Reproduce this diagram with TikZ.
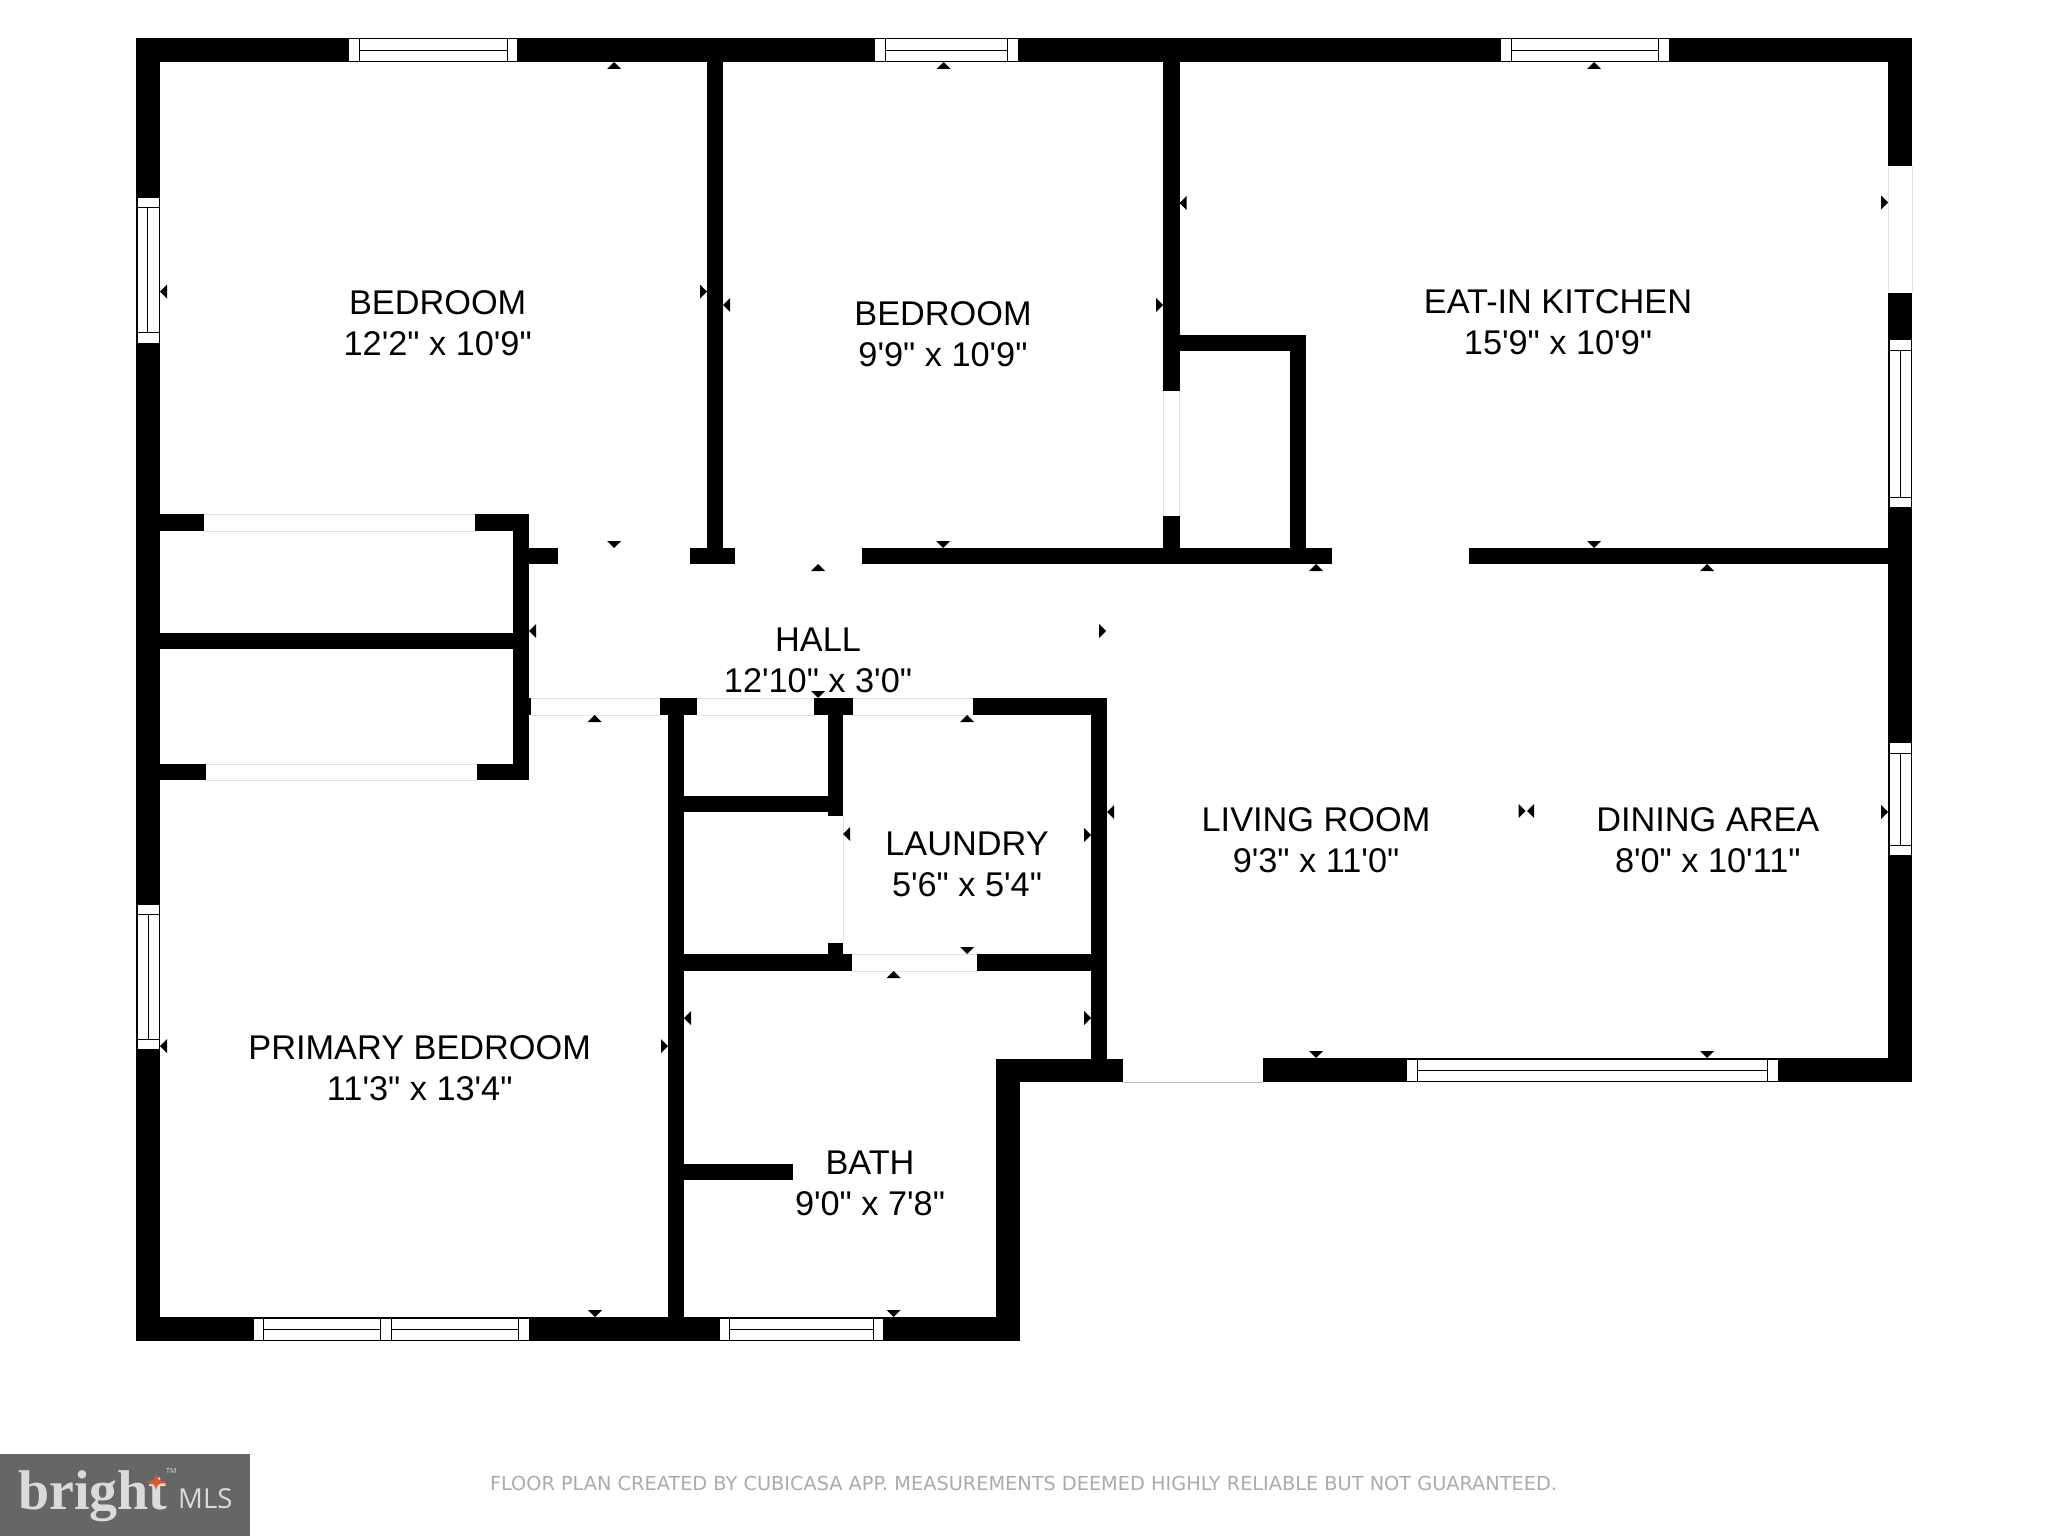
\documentclass[tikz,border=0pt]{standalone}
\usepackage{fontspec}
\newfontfamily\roomfont{Liberation Sans}
\newfontfamily\notefont{DejaVu Sans}
\newfontfamily\logofont{Liberation Serif}
\newfontfamily\mlsfont{Open Sans}
\definecolor{doorgray}{HTML}{E2E2E2}
\definecolor{notegray}{HTML}{ABABAB}
\definecolor{logogray}{HTML}{666666}
\definecolor{logotext}{HTML}{DADADA}
\definecolor{logostar}{HTML}{D9582C}
\begin{document}
\begin{tikzpicture}[x=1pt, y=-1pt, line join=miter,
	wall/.style={fill=black},
	win/.style={draw=black, line width=1pt},
	door/.style={draw=doorgray, line width=1pt},
	room/.style={font=\roomfont\fontsize{34.3}{41}\selectfont, align=center, inner sep=0pt}]
	\useasboundingbox (0,0) rectangle (2048,1536);
	\fill[white] (0,0) rectangle (2048,1536);
	\fill[wall] (136,38) rectangle (1912,62);
	\fill[wall] (136,38) rectangle (160,1341);
	\fill[wall] (136,1317) rectangle (1020,1341);
	\fill[wall] (996,1059) rectangle (1020,1341);
	\fill[wall] (996,1059) rectangle (1122.5,1082);
	\fill[wall] (1263,1058) rectangle (1912,1082);
	\fill[wall] (1888,38) rectangle (1912,166.4);
	\fill[wall] (1888,292.5) rectangle (1912,1082);
	\fill[wall] (707,62) rectangle (723,548);
	\fill[wall] (690,548) rectangle (735,564);
	\fill[wall] (529,548) rectangle (558,564);
	\fill[wall] (862,548) rectangle (1332,564);
	\fill[wall] (1468.6,548) rectangle (1888,564);
	\fill[wall] (1163,62) rectangle (1179.5,391.4);
	\fill[wall] (1163,516) rectangle (1179.5,548);
	\fill[wall] (1179.5,335) rectangle (1306,351.4);
	\fill[wall] (1290,335) rectangle (1306,548);
	\fill[wall] (160,514) rectangle (204,531);
	\fill[wall] (475,514) rectangle (529,531);
	\fill[wall] (513,514) rectangle (529,780);
	\fill[wall] (160,632.7) rectangle (513,649.3);
	\fill[wall] (160,764) rectangle (206,780);
	\fill[wall] (477,764) rectangle (529,780);
	\fill[wall] (513,698) rectangle (531,715);
	\fill[wall] (660,698) rectangle (697,715);
	\fill[wall] (668,715) rectangle (684,1317);
	\fill[wall] (814,698) rectangle (853,715);
	\fill[wall] (828,715) rectangle (843,816);
	\fill[wall] (684,796) rectangle (828,812);
	\fill[wall] (828,943) rectangle (843,960);
	\fill[wall] (684,954) rectangle (852,971);
	\fill[wall] (977,954) rectangle (1107,971);
	\fill[wall] (973,698) rectangle (1107,715);
	\fill[wall] (1091,698) rectangle (1107,1059);
	\fill[wall] (684,1164) rectangle (793,1180);
	\draw[door] (204,514)--(475,514) (204,531)--(475,531);
	\draw[door] (206,764)--(477,764) (206,780)--(477,780);
	\draw[door] (531,698)--(660,698) (531,715)--(660,715);
	\draw[door] (697,698)--(814,698) (697,715)--(814,715);
	\draw[door] (853,698)--(973,698) (853,715)--(973,715);
	\draw[door] (852,954)--(977,954) (852,971)--(977,971);
	\draw[door] (843,816)--(843,943);
	\draw[door] (1163,391.4)--(1163,516) (1179.5,391.4)--(1179.5,516);
	\draw[door] (1888,166.4)--(1888,292.5) (1912,166.4)--(1912,292.5);
	\draw[door, draw=black!25] (1122.5,1082)--(1263,1082);
	\draw[win, fill=white] (348,39) rectangle (517,61.5);
	\draw[win] (359,39)--(359,61.5) (507,39)--(507,61.5) (359,50.3)--(507,50.3);
	\draw[win, fill=white] (874.3,39) rectangle (1018,61.5);
	\draw[win] (885,39)--(885,61.5) (1007,39)--(1007,61.5) (885,50.3)--(1007,50.3);
	\draw[win, fill=white] (1500,39) rectangle (1669,61.5);
	\draw[win] (1511,39)--(1511,61.5) (1658,39)--(1658,61.5) (1511,50.4)--(1658,50.4);
	\draw[win, fill=white] (137,197) rectangle (159,343);
	\draw[win] (137,207.7)--(159,207.7) (137,332)--(159,332) (147.7,207.7)--(147.7,332);
	\draw[win, fill=white] (137,904) rectangle (159,1049.6);
	\draw[win] (137,914.3)--(159,914.3) (137,1039.3)--(159,1039.3) (148,914.3)--(148,1039.3);
	\draw[win, fill=white] (1889,339) rectangle (1911,507);
	\draw[win] (1889,350)--(1911,350) (1889,497)--(1911,497) (1900,350)--(1900,497);
	\draw[win, fill=white] (1889,742.5) rectangle (1911,855);
	\draw[win] (1889,753.5)--(1911,753.5) (1889,845)--(1911,845) (1900,753.5)--(1900,845);
	\draw[win, fill=white] (253,1318.5) rectangle (529,1340.5);
	\draw[win] (263.5,1318.5)--(263.5,1340.5) (380,1318.5)--(380,1340.5) (391,1318.5)--(391,1340.5) (518.6,1318.5)--(518.6,1340.5);
	\draw[win] (263.5,1329.2)--(380,1329.2) (391,1329.2)--(518.6,1329.2);
	\draw[win, fill=white] (719,1318.5) rectangle (883,1340.5);
	\draw[win] (729,1318.5)--(729,1340.5) (873,1318.5)--(873,1340.5) (729,1329.2)--(873,1329.2);
	\draw[win, fill=white] (1406,1059) rectangle (1778,1081);
	\draw[win] (1417,1059)--(1417,1081) (1767,1059)--(1767,1081) (1417,1070)--(1767,1070);
	\fill (614,62)--++(7,7)--++(-14,0)--cycle;
	\fill (943.7,62)--++(7,7)--++(-14,0)--cycle;
	\fill (1594,62)--++(7,7)--++(-14,0)--cycle;
	\fill (818,564)--++(7,7)--++(-14,0)--cycle;
	\fill (1316,564)--++(7,7)--++(-14,0)--cycle;
	\fill (1707,564)--++(7,7)--++(-14,0)--cycle;
	\fill (594.5,715)--++(7,7)--++(-14,0)--cycle;
	\fill (967,715)--++(7,7)--++(-14,0)--cycle;
	\fill (893.6,971)--++(7,7)--++(-14,0)--cycle;
	\fill (614,548)--++(7,-7)--++(-14,0)--cycle;
	\fill (943,548)--++(7,-7)--++(-14,0)--cycle;
	\fill (1594,548)--++(7,-7)--++(-14,0)--cycle;
	\fill (967,954)--++(7,-7)--++(-14,0)--cycle;
	\fill (595,1317)--++(7,-7)--++(-14,0)--cycle;
	\fill (893.6,1317)--++(7,-7)--++(-14,0)--cycle;
	\fill (1316,1058)--++(7,-7)--++(-14,0)--cycle;
	\fill (1707,1058)--++(7,-7)--++(-14,0)--cycle;
	\fill (160,291.7)--++(7,7)--++(0,-14)--cycle;
	\fill (723,305)--++(7,7)--++(0,-14)--cycle;
	\fill (529,631)--++(7,7)--++(0,-14)--cycle;
	\fill (843,834)--++(7,7)--++(0,-14)--cycle;
	\fill (684,1018)--++(7,7)--++(0,-14)--cycle;
	\fill (160,1046)--++(7,7)--++(0,-14)--cycle;
	\fill (1107,812)--++(7,7)--++(0,-14)--cycle;
	\fill (1179.5,203)--++(7,7)--++(0,-14)--cycle;
	\fill (1527,811)--++(7,7)--++(0,-14)--cycle;
	\fill (707,291.7)--++(-7,7)--++(0,-14)--cycle;
	\fill (1163,305)--++(-7,7)--++(0,-14)--cycle;
	\fill (1106,631)--++(-7,7)--++(0,-14)--cycle;
	\fill (1091,835)--++(-7,7)--++(0,-14)--cycle;
	\fill (1091,1018)--++(-7,7)--++(0,-14)--cycle;
	\fill (668,1046)--++(-7,7)--++(0,-14)--cycle;
	\fill (1888,202.5)--++(-7,7)--++(0,-14)--cycle;
	\fill (1888,812)--++(-7,7)--++(0,-14)--cycle;
	\fill (1525.6,811)--++(-7,7)--++(0,-14)--cycle;
	\node[room] (bedroomA) at (437.7,323.5) {BEDROOM\\12'2" x 10'9"};
	\node[room] (bedroomB) at (943,334) {BEDROOM\\9'9" x 10'9"};
	\node[room] (kitchen) at (1558,322) {EAT-IN KITCHEN\\15'9" x 10'9"};
	\node[room] (hall) at (818,660.7) {HALL\\12'10" x 3'0"};
	\node[room] (laundry) at (967,864) {LAUNDRY\\5'6" x 5'4"};
	\node[room] (primary) at (419.7,1068) {PRIMARY BEDROOM\\11'3" x 13'4"};
	\node[room] (bath) at (870,1183.5) {BATH\\9'0" x 7'8"};
	\node[room] (living) at (1316,840) {LIVING ROOM\\9'3" x 11'0"};
	\node[room] (dining) at (1707.8,840) {DINING AREA\\8'0" x 10'11"};
	\fill (818,698)--++(7,-7)--++(-14,0)--cycle;
	\node[font=\notefont\fontsize{19.3}{24}\selectfont, text=notegray, inner sep=0pt] (note) at (1023.5,1483) {FLOOR PLAN CREATED BY CUBICASA APP. MEASUREMENTS DEEMED HIGHLY RELIABLE BUT NOT GUARANTEED.};
	\fill[logogray] (0,1454) rectangle (250,1536);
	\node[font=\logofont\bfseries\fontsize{56}{60}\selectfont, text=logotext, anchor=base west, inner sep=0pt] (bright) at (18,1509) {bright};
	\node[font=\mlsfont\fontsize{27.5}{30}\selectfont, text=logotext, anchor=base west, inner sep=0pt] (mls) at (178,1508) {MLS};
	\node[font=\mlsfont\fontsize{7}{8}\selectfont, text=logotext, anchor=base west, inner sep=0pt] (tm) at (166,1473) {TM};
	\fill[logostar] (145,1482) .. controls (153,1481) and (155,1480) .. (156,1473) .. controls (157,1480) and (159,1481) .. (167,1482) .. controls (159,1483) and (157,1484) .. (156,1490) .. controls (155,1484) and (153,1483) .. (145,1482) -- cycle;
\end{tikzpicture}
\end{document}
